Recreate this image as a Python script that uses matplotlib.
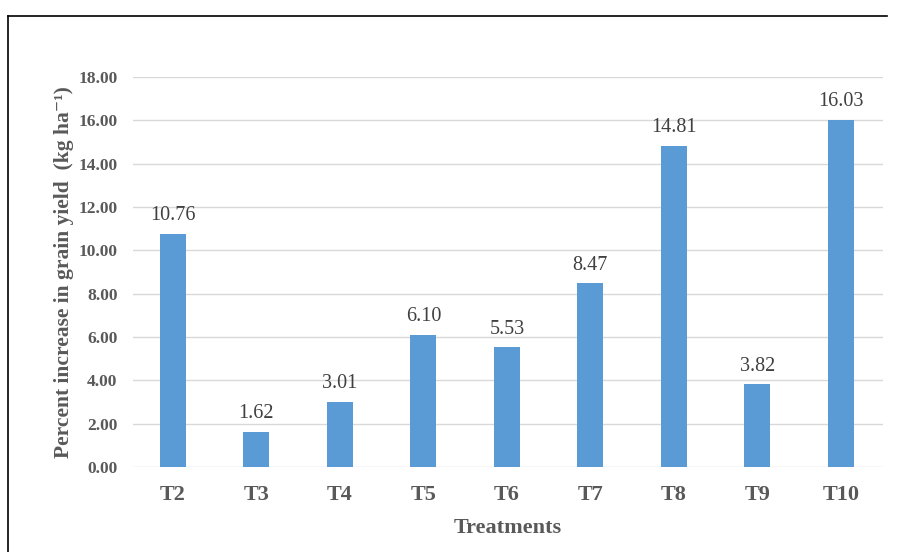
import matplotlib.pyplot as plt
from matplotlib.lines import Line2D

treatments = ["T2", "T3", "T4", "T5", "T6", "T7", "T8", "T9", "T10"]
increase = [10.76, 1.62, 3.01, 6.10, 5.53, 8.47, 14.81, 3.82, 16.03]
yticks = [0, 2, 4, 6, 8, 10, 12, 14, 16, 18]

plt.rcParams['font.family'] = ['Liberation Serif', 'DejaVu Serif']

fig = plt.figure(figsize=(8.97, 5.52), dpi=100)
ax = fig.add_axes([0.148, 0.154, 0.836, 0.7065])

x = range(len(treatments))
bars = ax.bar(x, increase, width=0.31, color="#5b9bd5", zorder=3)
for xi, v in zip(x, increase):
    ax.text(xi, v + 0.4, f"{v:.2f}", ha="center", va="bottom",
            fontsize=14.5, color="#404040")

ax.set_xlim(-0.48, 8.5)
ax.set_ylim(0, 18)
ax.set_yticks(yticks)
ax.set_yticklabels([f"{t:.2f}" for t in yticks], fontsize=12.5,
                   fontweight="bold", color="#595959")
ax.set_xticks(list(x))
ax.set_xticklabels(treatments, fontsize=16, fontweight="bold", color="#595959")
ax.tick_params(length=0)
ax.tick_params(axis="y", pad=11)
ax.tick_params(axis="x", pad=13)
ax.grid(axis="y", color="#d9d9d9", linewidth=1, zorder=0)
for s in ax.spines.values():
    s.set_visible(False)

ax.set_xlabel("Treatments", fontsize=16, fontweight="bold", color="#595959",
              labelpad=9)
ax.set_ylabel("Percent increase in grain yield  (kg ha\u207b\u00b9)",
              fontsize=15.5, fontweight="bold", color="#595959", labelpad=3)

# outer frame (top and left)
fig.add_artist(Line2D([8 / 897, 887 / 897], [1 - 16 / 552, 1 - 16 / 552],
                      color="black", linewidth=1.2))
fig.add_artist(Line2D([8 / 897, 8 / 897], [0, 1 - 16 / 552],
                      color="black", linewidth=1.2))

fig.savefig("out.png", dpi=100)
